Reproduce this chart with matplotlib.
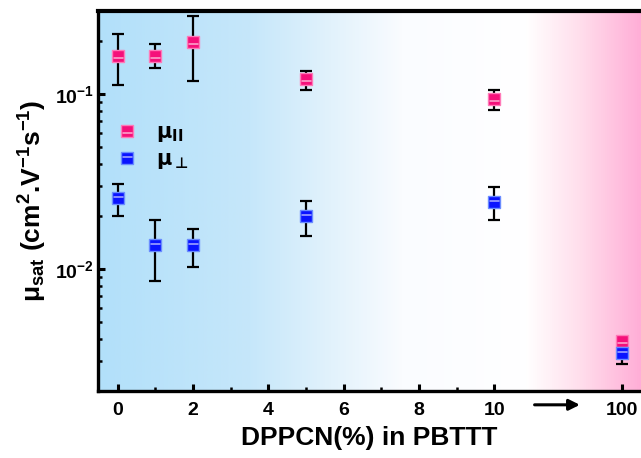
import numpy as np
import matplotlib
matplotlib.use('Agg')
import matplotlib.pyplot as plt
from matplotlib.colors import LinearSegmentedColormap

plt.rcParams['font.family'] = ['Liberation Sans', 'DejaVu Sans']
plt.rcParams['font.weight'] = 'bold'
plt.rcParams['mathtext.fontset'] = 'custom'
plt.rcParams['mathtext.rm'] = 'Liberation Sans'
plt.rcParams['mathtext.it'] = 'Liberation Sans:italic'
plt.rcParams['mathtext.bf'] = 'Liberation Sans:bold'

# x positions (100% is drawn after a break, at position 13.4)
x_labels = ['0', '2', '4', '6', '8', '10', '100']
x_ticks = [0, 2, 4, 6, 8, 10, 13.4]
x_pos = [0, 1, 2, 5, 10, 13.4]

mu_par = [0.165, 0.165, 0.197, 0.122, 0.0933, 0.00388]
mu_par_lo = [0.112, 0.140, 0.118, 0.106, 0.081, 0.00365]
mu_par_hi = [0.219, 0.192, 0.280, 0.136, 0.105, 0.00407]

mu_perp = [0.0255, 0.0137, 0.0137, 0.0201, 0.0243, 0.0033]
mu_perp_lo = [0.0201, 0.0085, 0.0103, 0.0155, 0.0192, 0.00288]
mu_perp_hi = [0.0305, 0.0190, 0.0170, 0.0245, 0.0293, 0.0036]

pink = '#f5107a'
pink_edge = '#ff7ab8'
blue = '#0a14ff'
blue_edge = '#6a8cff'

fig = plt.figure(figsize=(6.41, 4.58), dpi=100)
ax = fig.add_axes([0.153, 0.146, 0.847, 0.83])

# background gradient
stops = [(0.0, (178/255, 224/255, 250/255)),
         (0.28, (198/255, 231/255, 250/255)),
         (0.43, (226/255, 242/255, 252/255)),
         (0.56, (250/255, 252/255, 255/255)),
         (0.79, (1.0, 1.0, 1.0)),
         (0.89, (1.0, 222/255, 236/255)),
         (1.0, (1.0, 174/255, 215/255))]
cmap = LinearSegmentedColormap.from_list('bg', stops)
grad = np.linspace(0, 1, 512).reshape(1, -1)
ax.imshow(grad, aspect='auto', cmap=cmap, extent=[0, 1, 0, 1],
          transform=ax.transAxes, zorder=0)

stripe_lo = [(-0.5, -0.07), (0.5, -0.07), (0.5, -0.27), (-0.5, -0.27)]
stripe_hi = [(-0.5, 0.07), (0.5, 0.07), (0.5, 0.27), (-0.5, 0.27)]


def draw(y, lo, hi, color, edge, stripe):
    y = np.array(y)
    err = [y - np.array(lo), np.array(hi) - y]
    ax.errorbar(x_pos, y, yerr=err, fmt='none', ecolor='black',
                elinewidth=1.6, capsize=4, capthick=1.6, zorder=2)
    sq, = ax.plot(x_pos, y, 's', ms=8.5, mfc=color, mec=edge, mew=1.0,
                  ls='none', zorder=3)
    st, = ax.plot(x_pos, y, marker=stripe, ms=6.5, mfc='white', mec='none',
                  ls='none', zorder=4)
    return sq, st


h_par = draw(mu_par, mu_par_lo, mu_par_hi, pink, pink_edge, stripe_lo)
h_perp = draw(mu_perp, mu_perp_lo, mu_perp_hi, blue, blue_edge, stripe_hi)

ax.set_yscale('log')
ax.set_ylim(0.00201, 0.298)
ax.set_xlim(-0.52, 13.9)

ax.set_xticks(x_ticks)
ax.set_xticklabels(x_labels)
ax.set_xticks([1, 3, 5, 7, 9], minor=True)
ax.set_yticks([0.01, 0.1])
ax.set_yticklabels([r'$\mathbf{10^{-2}}$', r'$\mathbf{10^{-1}}$'])

ax.tick_params(axis='both', which='major', direction='in', length=5, width=2.2,
               labelsize=14, pad=8)
ax.tick_params(axis='both', which='minor', direction='in', length=3, width=1.8)
ax.tick_params(axis='y', which='major', pad=3)
ax.tick_params(top=False, right=False, which='both')

for side in ['left', 'bottom']:
    ax.spines[side].set_linewidth(2.4)
ax.spines['top'].set_linewidth(3)
ax.spines['right'].set_visible(False)

ax.set_xlabel('DPPCN(%) in PBTTT', fontsize=19, fontweight='bold', labelpad=5)
ax.set_ylabel(r'$\mathbf{\mu_{sat}}$ (cm$^{\mathbf{2}}$.V$^{\mathbf{-1}}$s$^{\mathbf{-1}}$)',
              fontsize=19, fontweight='bold', labelpad=4)

# arrow between 10 and 100
ax.annotate('', xy=(12.35, -0.036), xytext=(11.0, -0.036),
            xycoords=('data', 'axes fraction'),
            arrowprops=dict(arrowstyle='-|>', color='black', lw=2.2,
                            mutation_scale=16),
            annotation_clip=False)

leg = ax.legend([h_par, h_perp],
                [r'$\mathrm{\mu}_{\mathbf{II}}$', r'$\mathrm{\mu}_{\bot}$'],
                loc='upper left', bbox_to_anchor=(0.0, 0.755), frameon=False,
                prop=dict(size=15, weight='bold'),
                handlelength=1.0, handletextpad=0.9, labelspacing=0.3)
for t in leg.get_texts():
    t.set_math_fontfamily('dejavusans')

fig.savefig('out.png', dpi=100)
